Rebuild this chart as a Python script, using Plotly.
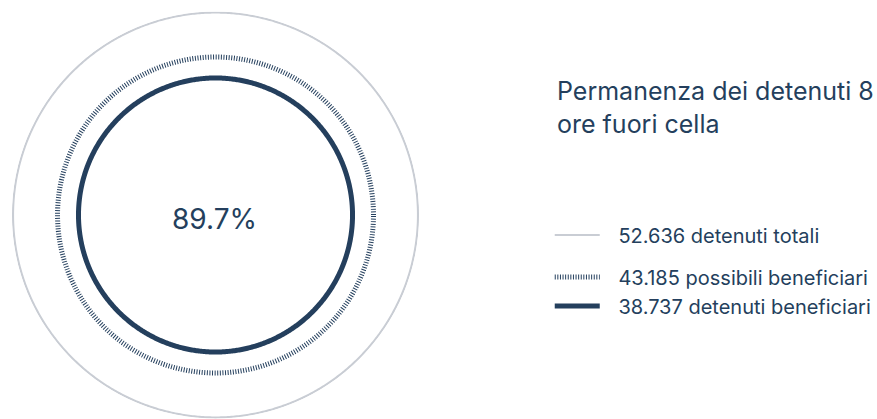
import numpy as np
import plotly.graph_objects as go

# Data
labels = ["52.636 detenuti totali", "43.185 possibili beneficiari", "38.737 detenuti beneficiari"]
values = [52636, 43185, 38737]
title_text = "Permanenza dei detenuti 8<br>ore fuori cella"

NAVY = "#243f5d"
GRAY = "#c9cdd4"
FONT = "Inter"

W, H = 877, 419

def px(x):
    return x / W

def py(y):
    return 1 - y / H

pct = values[2] / values[1] * 100

theta = np.linspace(0, 360, 721)
styles = [
    dict(color=GRAY, width=2.2, dash="solid"),
    dict(color=NAVY, width=5, dash="1px,1.6px"),
    dict(color=NAVY, width=5, dash="solid"),
]
legend_ids = ["legend", "legend2", "legend3"]
legend_y = [235, 277, 306]

fig = go.Figure()
for lab, val, st, lg in zip(labels, values, styles, legend_ids):
    fig.add_trace(go.Scatterpolar(
        r=[val] * len(theta), theta=theta, mode="lines",
        line=st, name="\u2002\u2009" + lab, hoverinfo="skip",
        legend=lg,
    ))

legend_common = dict(
    xanchor="left", yanchor="middle",
    font=dict(size=20, color=NAVY, family=FONT),
    itemwidth=45, bgcolor="rgba(0,0,0,0)",
)

# polar centred at (216, 215), radius 204 px
cx, cy, R = 216, 215, 204
layout = dict(
    width=W, height=H,
    margin=dict(l=0, r=0, t=0, b=0),
    paper_bgcolor="white",
    font=dict(family=FONT, color=NAVY),
    polar=dict(
        domain=dict(x=[(cx - R) / W, (cx + R) / W], y=[max(0, 1 - (cy + R) / H), 1 - (cy - R) / H]),
        bgcolor="white",
        radialaxis=dict(visible=False, range=[9665, 52850]),
        angularaxis=dict(visible=False),
    ),
    showlegend=True,
    annotations=[
        dict(text=f"{pct:.1f}%", x=px(215), y=py(219), xref="paper", yref="paper",
             showarrow=False, font=dict(size=28, color=NAVY, family=FONT),
             xanchor="center", yanchor="middle"),
        dict(text=title_text, x=px(556), y=py(74), xref="paper", yref="paper",
             showarrow=False, align="left", xanchor="left", yanchor="top",
             font=dict(size=25, color=NAVY, family=FONT)),
    ],
)
for lg, yy in zip(legend_ids, legend_y):
    layout[lg] = dict(legend_common, x=px(551), y=py(yy))

fig.update_layout(**layout)

fig.write_html("out.html", config={"displayModeBar": False},
               post_script="document.body.style.margin='0';")
